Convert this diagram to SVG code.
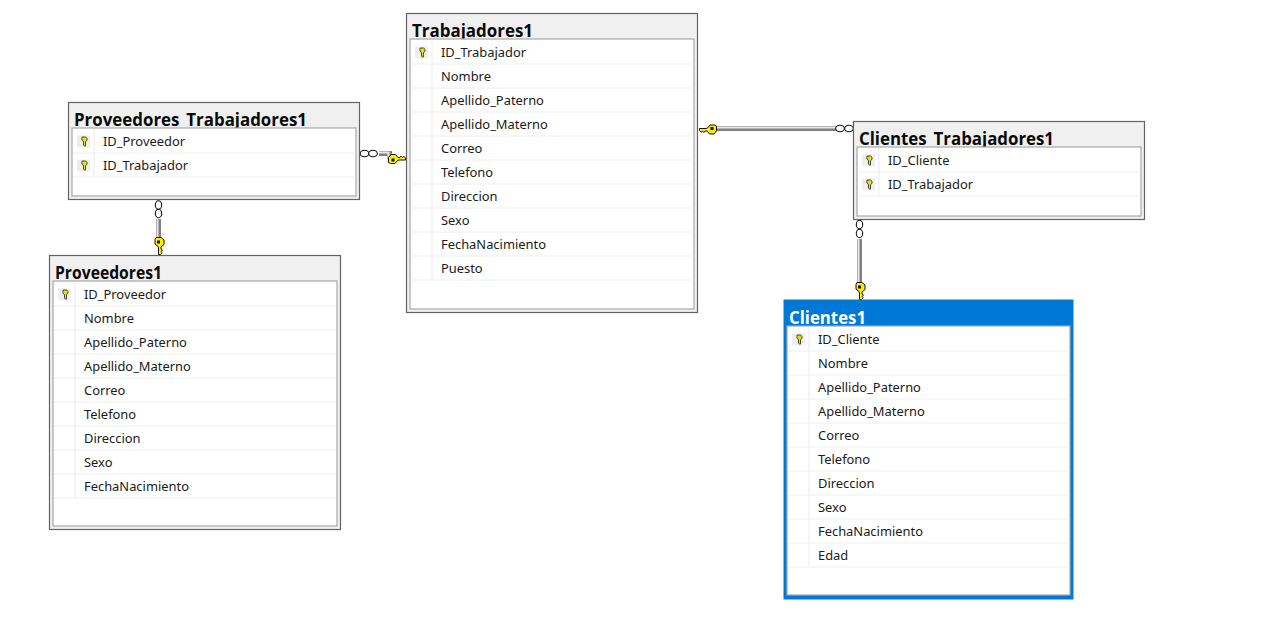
<svg xmlns="http://www.w3.org/2000/svg" width="1278" height="642" viewBox="0 0 1278 642">
<style>
.o{fill:#f0f0f0;stroke:#636363;stroke-width:1.2}
.i{fill:#fff;stroke:#a8a8a8;stroke-width:1.2}
.r{stroke:#efefef;stroke-width:1.2;fill:none}
.t{font:700 18.2px "Open Sans","Noto Sans","Liberation Sans",sans-serif;fill:#0a0a0a}
.c{font:12.9px "Noto Sans","Open Sans","Liberation Sans",sans-serif;fill:#1a1a1a}
.kb{fill:#eee}
.sel .o{fill:#0078d7;stroke:#0078d7;stroke-width:2}
.sel .t{fill:#fff}
.a{fill:none;stroke:#808080;stroke-width:5}
.b{fill:none;stroke:#e8e8e8;stroke-width:2}
.e{fill:#fff;stroke:#111;stroke-width:1.1}
.ky{fill:#ffee00;stroke:#111;stroke-width:1}
</style>
<defs>
<g id="rk"><rect class="kb" x="-7" y="-6" width="13" height="12"/><path d="M-2 -4.500h3.500l1.500 1.300v2l-1.500 1.200v4.500h-1.200l-.8-.7v-3.800l-1.500-1.200v-2z" fill="#e9e300" stroke="#333" stroke-width=".9"/></g>
<g id="bk"><path class="ky" d="M-2.500 -5.500h5l3 2.500v4.500l-3 2.500v2l1.500 1.200-1.500 1.300 1.200 1.300-1.700 1.700h-2v-6.500l-.5-1.500-3-2.500v-4.500z"/><rect x="-1.500" y="-2.500" width="3" height="3" fill="#111"/></g>
</defs>
<rect width="1278" height="642" fill="#fff"/>
<g id="connectors">
<g id="link-proveedores-trabajadores">
<path class="a" d="M379 153.500H389.500V159"/><path class="b" d="M379 152.500H388.500V159"/>
<ellipse class="e" cx="364.500" cy="153.500" rx="4.300" ry="3.200"/><ellipse class="e" cx="373" cy="153.500" rx="4.300" ry="3.200"/>
<use href="#bk" transform="translate(394 160) rotate(-90)"/>
</g>
<g id="link-trabajadores-clientes">
<path class="a" d="M717 128.500H836"/><path class="b" d="M717 127.500H836"/>
<ellipse class="e" cx="840" cy="128.500" rx="4.300" ry="3.200"/><ellipse class="e" cx="849" cy="128.500" rx="4.300" ry="3.200"/>
<use href="#bk" transform="translate(711 128.500) rotate(90)"/>
</g>
<g id="link-proveedores">
<path class="a" d="M158.500 219V238"/><path class="b" d="M157.500 219V238"/>
<ellipse class="e" cx="158.500" cy="205" rx="3.200" ry="4.300"/><ellipse class="e" cx="158.500" cy="213.500" rx="3.200" ry="4.300"/>
<use href="#bk" transform="translate(158.500 243)"/>
</g>
<g id="link-clientes">
<path class="a" d="M859.500 239V283"/><path class="b" d="M858.500 239V283"/>
<ellipse class="e" cx="859.500" cy="224.500" rx="3.200" ry="4.300"/><ellipse class="e" cx="859.500" cy="233.500" rx="3.200" ry="4.300"/>
<use href="#bk" transform="translate(859.500 288)"/>
</g>
</g>
<g id="Proveedores_Trabajadores1" transform="translate(68.500 102.500)">
<rect class="o" width="291" height="97"/>
<text class="t" x="5.500" y="23.500" textLength="233" lengthAdjust="spacingAndGlyphs">Proveedores_Trabajadores1</text>
<rect class="i" x="3.500" y="25.500" width="284" height="68"/>
<path class="r" d="M4.500 50.500H285M4.500 74.500H285M25.500 26.500V74.500"/>
<use href="#rk" x="15.500" y="39"/><use href="#rk" x="15.500" y="63"/>
<text class="c" x="34.500" y="43.500">ID_Proveedor</text><text class="c" x="34.500" y="67.500">ID_Trabajador</text>
</g>
<g id="Trabajadores1" transform="translate(406.500 13.500)">
<rect class="o" width="291" height="299"/>
<text class="t" x="5.500" y="23.500" textLength="121" lengthAdjust="spacingAndGlyphs">Trabajadores1</text>
<rect class="i" x="3.500" y="25.500" width="284" height="270"/>
<path class="r" d="M4.500 50.500H285M4.500 74.500H285M4.500 98.500H285M4.500 122.500H285M4.500 146.500H285M4.500 170.500H285M4.500 194.500H285M4.500 218.500H285M4.500 242.500H285M4.500 266.500H285M25.500 26.500V266.500"/>
<use href="#rk" x="15.500" y="39"/>
<text class="c" x="34.500" y="43.500">ID_Trabajador</text><text class="c" x="34.500" y="67.500">Nombre</text><text class="c" x="34.500" y="91.500">Apellido_Paterno</text><text class="c" x="34.500" y="115.500">Apellido_Materno</text><text class="c" x="34.500" y="139.500">Correo</text><text class="c" x="34.500" y="163.500">Telefono</text><text class="c" x="34.500" y="187.500">Direccion</text><text class="c" x="34.500" y="211.500">Sexo</text><text class="c" x="34.500" y="235.500">FechaNacimiento</text><text class="c" x="34.500" y="259.500">Puesto</text>
</g>
<g id="Clientes_Trabajadores1" transform="translate(853.500 121.500)">
<rect class="o" width="291" height="98"/>
<text class="t" x="5.500" y="23.500" textLength="195" lengthAdjust="spacingAndGlyphs">Clientes_Trabajadores1</text>
<rect class="i" x="3.500" y="25.500" width="284" height="69"/>
<path class="r" d="M4.500 50.500H285M4.500 74.500H285M25.500 26.500V74.500"/>
<use href="#rk" x="15.500" y="39"/><use href="#rk" x="15.500" y="63"/>
<text class="c" x="34.500" y="43.500">ID_Cliente</text><text class="c" x="34.500" y="67.500">ID_Trabajador</text>
</g>
<g id="Proveedores1" transform="translate(49.500 255.500)">
<rect class="o" width="291" height="274"/>
<text class="t" x="5.500" y="23.500" textLength="107" lengthAdjust="spacingAndGlyphs">Proveedores1</text>
<rect class="i" x="3.500" y="25.500" width="284" height="245"/>
<path class="r" d="M4.500 50.500H285M4.500 74.500H285M4.500 98.500H285M4.500 122.500H285M4.500 146.500H285M4.500 170.500H285M4.500 194.500H285M4.500 218.500H285M4.500 242.500H285M25.500 26.500V242.500"/>
<use href="#rk" x="15.500" y="39"/>
<text class="c" x="34.500" y="43.500">ID_Proveedor</text><text class="c" x="34.500" y="67.500">Nombre</text><text class="c" x="34.500" y="91.500">Apellido_Paterno</text><text class="c" x="34.500" y="115.500">Apellido_Materno</text><text class="c" x="34.500" y="139.500">Correo</text><text class="c" x="34.500" y="163.500">Telefono</text><text class="c" x="34.500" y="187.500">Direccion</text><text class="c" x="34.500" y="211.500">Sexo</text><text class="c" x="34.500" y="235.500">FechaNacimiento</text>
</g>
<g id="Clientes1" class="sel" transform="translate(784.500 300.500)">
<rect class="o" width="288" height="298"/>
<text class="t" x="4.500" y="23.500" textLength="77" lengthAdjust="spacingAndGlyphs">Clientes1</text>
<rect class="i" x="2.500" y="25.500" width="283" height="269"/>
<path class="r" d="M3.500 50.500H283M3.500 74.500H283M3.500 98.500H283M3.500 122.500H283M3.500 146.500H283M3.500 170.500H283M3.500 194.500H283M3.500 218.500H283M3.500 242.500H283M3.500 266.500H283M24.500 26.500V266.500"/>
<use href="#rk" x="14.500" y="39"/>
<text class="c" x="33.500" y="43.500">ID_Cliente</text><text class="c" x="33.500" y="67.500">Nombre</text><text class="c" x="33.500" y="91.500">Apellido_Paterno</text><text class="c" x="33.500" y="115.500">Apellido_Materno</text><text class="c" x="33.500" y="139.500">Correo</text><text class="c" x="33.500" y="163.500">Telefono</text><text class="c" x="33.500" y="187.500">Direccion</text><text class="c" x="33.500" y="211.500">Sexo</text><text class="c" x="33.500" y="235.500">FechaNacimiento</text><text class="c" x="33.500" y="259.500">Edad</text>
</g>
</svg>
